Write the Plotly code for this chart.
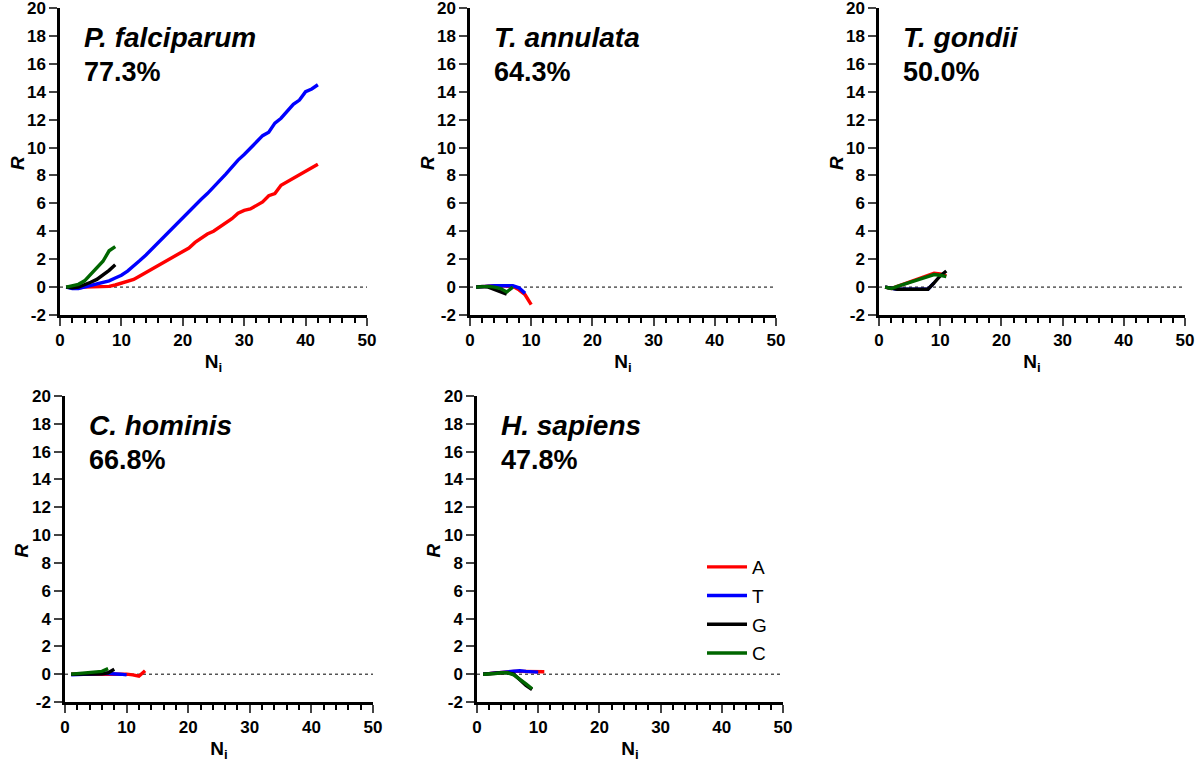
import plotly.graph_objects as go

# ---------------- data ----------------
species = ["P. falciparum", "T. annulata", "T. gondii", "C. hominis", "H. sapiens"]
percent = ["77.3%", "64.3%", "50.0%", "66.8%", "47.8%"]
nucleotides = ["A", "T", "G", "C"]
colors = ["#ff0000", "#0000ff", "#000000", "#006600"]

pf_A = [0, -0.05, -0.05, 0, 0, 0, 0.02, 0.05, 0.15, 0.3, 0.45, 0.55, 0.8, 1.05, 1.3, 1.55,
        1.85, 2.1, 2.35, 2.6, 2.8, 3.2, 3.5, 3.8, 4.0, 4.3, 4.6, 4.9, 5.3, 5.5, 5.6, 5.85,
        6.1, 6.55, 6.7, 7.3, 7.55, 7.85, 8.1, 8.35, 8.55, 8.8]
pf_T = [0, -0.1, -0.1, 0, 0.1, 0.2, 0.3, 0.45, 0.65, 0.85, 1.15, 1.5, 1.9, 2.3, 2.75, 3.2,
        3.6, 4.05, 4.5, 4.95, 5.4, 5.85, 6.3, 6.7, 7.15, 7.6, 8.1, 8.6, 9.1, 9.5, 9.95,
        10.45, 10.85, 11.1, 11.75, 12.1, 12.6, 13.1, 13.4, 14.0, 14.2, 14.5]
pf_G = [0, -0.05, 0, 0.15, 0.35, 0.55, 0.85, 1.2, 1.6]
pf_C = [0, 0.1, 0.2, 0.45, 0.9, 1.35, 1.85, 2.6, 2.9]

ta_A = [0, 0.05, 0.05, 0.1, 0.1, 0.1, 0.05, -0.2, -0.55, -1.25]
ta_T = [0, 0.05, 0.05, 0.1, 0.1, 0.1, 0.1, -0.05, -0.45]
ta_G = [0, 0.05, 0, -0.15, -0.3, -0.5]
ta_C = [0, 0.05, 0.05, 0, -0.1, -0.35, 0.0]

tg_A = [0, -0.1, 0.05, 0.2, 0.35, 0.5, 0.65, 0.8, 1.0, 0.95, 0.8]
tg_T = [0, -0.1, -0.15, -0.15, -0.15, -0.15, -0.15, -0.15, 0.3]
tg_G = [0, -0.1, -0.15, -0.15, -0.15, -0.15, -0.15, -0.15, 0.3, 0.8, 1.15]
tg_C = [0, -0.1, 0.05, 0.2, 0.35, 0.5, 0.65, 0.8, 0.9, 0.85, 0.75]

ch_A = [0, 0, 0.02, 0.03, 0.05, 0.05, 0.05, 0.05, 0.05, 0, -0.05, -0.15, 0.25]
ch_T = [-0.05, -0.02, 0, 0.02, 0.05, 0.05, 0.05, 0.05, 0, -0.05]
ch_G = [0, 0, 0, 0, 0, 0.02, 0.1, 0.35]
ch_C = [0, 0.05, 0.08, 0.1, 0.15, 0.2, 0.4]

hs_A = [0, 0.05, 0.1, 0.15, 0.2, 0.2, 0.2, 0.2, 0.15, 0.15, 0.17]
hs_T = [0, 0.05, 0.1, 0.15, 0.2, 0.25, 0.25, 0.2, 0.2, 0.15]
hs_G = [0, 0.05, 0.1, 0.1, 0.1, 0, -0.4, -0.8, -1.1]
hs_C = [0, 0, 0.05, 0.1, 0.1, -0.05, -0.35, -0.7, -1.05]

series = [
    [pf_A, pf_T, pf_G, pf_C],
    [ta_A, ta_T, ta_G, ta_C],
    [tg_A, tg_T, tg_G, tg_C],
    [ch_A, ch_T, ch_G, ch_C],
    [hs_A, hs_T, hs_G, hs_C],
]

x_ticks = [0, 10, 20, 30, 40, 50]
y_ticks = [-2, 0, 2, 4, 6, 8, 10, 12, 14, 16, 18, 20]
y_tick_text = ["-2", "0", "2", "4", "6", "8", "10", "12", "14", "16", "18", "20"]

# ---------------- layout ----------------
W, H = 1200, 766
# pixel boxes (left, right, top, bottom) of each plot area
boxes = [
    (60, 367, 8, 315),
    (470, 776, 8, 315),
    (879, 1185, 8, 315),
    (65, 373, 396, 702),
    (477, 783, 396, 702),
]

FONT = "Arial, Liberation Sans, sans-serif"
fig = go.Figure()

for i, (sp, pc, data, box) in enumerate(zip(species, percent, series, boxes)):
    k = "" if i == 0 else str(i + 1)
    xa, ya = "x" + k, "y" + k
    l, r, t, b = box
    for j, (nuc, col, vals) in enumerate(zip(nucleotides, colors, data)):
        fig.add_trace(go.Scatter(
            x=list(range(1, len(vals) + 1)), y=vals, mode="lines",
            line=dict(color=col, width=3.4), name=nuc,
            showlegend=(i == 0), legendgroup=nuc,
            xaxis=xa, yaxis=ya, hoverinfo="skip",
        ))
    fig.update_layout(**{
        "xaxis" + k: dict(
            domain=[l / W, r / W], range=[0, 50], anchor=ya, automargin=False,
            tickvals=x_ticks, ticks="outside", ticklen=8, tickwidth=2,
            showline=True, linewidth=2.5, linecolor="black",
            showgrid=False, zeroline=False, ticklabeloverflow="allow",
            tickfont=dict(family=FONT, size=17, color="black", weight="bold"),
            minor=dict(dtick=2, ticks="outside", ticklen=5, tickwidth=2, tickcolor="black", showgrid=False),
            title=dict(text="N<sub>i</sub>", standoff=6,
                       font=dict(family=FONT, size=19, color="black", weight="bold")),
        ),
        "yaxis" + k: dict(
            domain=[1 - b / H, 1 - t / H], range=[-2, 20], anchor=xa, automargin=False,
            tickvals=y_ticks, ticktext=y_tick_text, ticks="outside", ticklen=8, tickwidth=2,
            showline=True, linewidth=2.5, linecolor="black",
            showgrid=False, zeroline=False, ticklabeloverflow="allow",
            tickfont=dict(family=FONT, size=17, color="black", weight="bold"),
        ),
    })
    fig.add_shape(type="line", xref=xa, yref=ya, x0=0, x1=50, y0=0, y1=0,
                  line=dict(color="black", width=1, dash="dot"), layer="below")
    # y-axis title "R"
    fig.add_annotation(xref="paper", yref=ya + " domain", x=(l - 43) / W, y=0.495,
                       text="R", showarrow=False, textangle=-90,
                       xanchor="center", yanchor="middle",
                       font=dict(family=FONT, size=19, color="black", weight="bold", style="italic"))
    fig.add_annotation(xref=xa, yref=ya, x=3.6, y=17.9, text=sp, showarrow=False,
                       xanchor="left", yanchor="middle",
                       font=dict(family=FONT, size=28, color="black", weight="bold", style="italic"))
    fig.add_annotation(xref=xa, yref=ya, x=3.6, y=15.4, text=pc, showarrow=False,
                       xanchor="left", yanchor="middle",
                       font=dict(family=FONT, size=27, color="black", weight="bold"))

fig.update_layout(
    width=W, height=H,
    margin=dict(l=0, r=0, t=0, b=0),
    paper_bgcolor="white", plot_bgcolor="white",
    showlegend=True, hovermode=False,
    legend=dict(x=702 / W, y=1 - 548 / H, xanchor="left", yanchor="top",
                font=dict(family=FONT, size=19, color="black"),
                bgcolor="rgba(0,0,0,0)", itemwidth=40, tracegroupgap=1),
)

fig.write_html("out.html", config={"displayModeBar": False},
               post_script="document.body.style.margin='0';")
